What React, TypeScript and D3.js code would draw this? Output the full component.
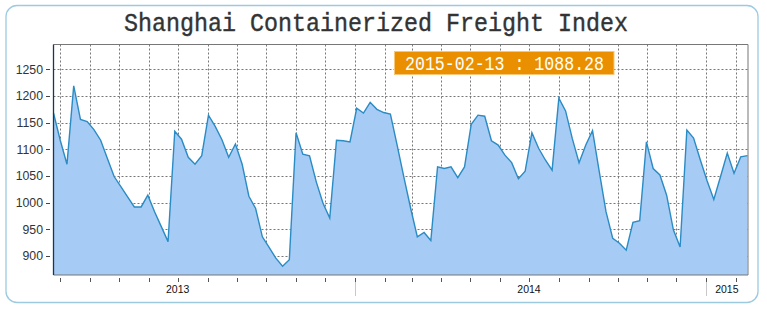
import React from "react";
import * as d3 from "d3";

const TITLE = "Shanghai Containerized Freight Index";
const START_DATE = Date.UTC(2013, 1, 22);
const values: number[] = [
  1168, 1117, 1072, 1219, 1156, 1152, 1137, 1117, 1083, 1049,
  1030, 1011, 992, 992, 1014, 983, 955, 927, 1134, 1119,
  1085, 1072, 1088, 1164, 1143, 1118, 1085, 1110, 1072, 1012,
  989, 936, 916, 896, 881, 893, 1131, 1091, 1088, 1039,
  999, 971, 1117, 1116, 1114, 1177, 1168, 1188, 1175, 1169,
  1166, 1108, 1048, 990, 936, 944, 929, 1067, 1064, 1067,
  1047, 1067, 1147, 1164, 1162, 1116, 1108, 1089, 1075, 1045,
  1059, 1131, 1102, 1080, 1061, 1196, 1172, 1120, 1075, 1108,
  1135, 1058, 983, 933, 924, 911, 963, 966, 1114, 1064,
  1052, 1014, 949, 917, 1136, 1121, 1080, 1041, 1006, 1049,
  1093, 1055, 1086, 1088.28,
];
const yTicks: number[] = [900, 950, 1000, 1050, 1100, 1150, 1200, 1250];
const yearLabels: string[] = ["2013", "2014", "2015"];

const W = 767;
const H = 310;
const plotL = 53.5;
const plotR = 748;
const plotT = 44.5;
const plotB = 275;

export default function App() {
  const dates = values.map((_, i) => new Date(START_DATE + i * 7 * 864e5));
  const x = d3
    .scaleUtc()
    .domain([dates[0], dates[dates.length - 1]])
    .range([plotL, 747.5]);
  const y = d3.scaleLinear().domain([900, 1250]).range([256, 69.3]);

  const months = d3.utcMonth.range(dates[0], dates[dates.length - 1]);
  const pts = values.map((v, i) => [dates[i], v] as [Date, number]);
  const area = d3
    .area<[Date, number]>()
    .x((d) => x(d[0]))
    .y0(plotB)
    .y1((d) => y(d[1]))(pts) as string;
  const line = d3
    .line<[Date, number]>()
    .x((d) => x(d[0]))
    .y((d) => y(d[1]))(pts) as string;

  const [d0, d1] = x.domain();
  const yearPos = yearLabels.map((yr) => {
    const yn = +yr;
    const mid = new Date(Date.UTC(yn, 6, 1));
    if (mid >= d0 && mid <= d1) return x(mid);
    const s = Math.max(+d0, Date.UTC(yn, 0, 1));
    const e = Math.min(+d1, Date.UTC(yn + 1, 0, 1));
    return (x(new Date(s)) + x(new Date(e))) / 2;
  });

  const last = values.length - 1;
  const labelText = `${d3.utcFormat("%Y-%m-%d")(dates[last])} : ${values[last].toFixed(2)}`;

  return (
    <svg
      width={W}
      height={H}
      style={{ position: "absolute", left: 0, top: 0, background: "#fff" }}
    >
      <rect
        x={6}
        y={5.5}
        width={752}
        height={297}
        rx={11}
        fill="#fff"
        stroke="#9ccbe0"
        strokeWidth={1.3}
      />
      <text
        x={376}
        y={31}
        textAnchor="middle"
        fontFamily="'Liberation Mono', 'DejaVu Sans Mono', monospace"
        fontSize={26}
        fill="#333"
        stroke="#333"
        strokeWidth={0.4}
        textLength={504}
        lengthAdjust="spacingAndGlyphs"
      >
        {TITLE}
      </text>

      {/* grid */}
      {yTicks.map((t) => (
        <line
          key={"gy" + t}
          x1={plotL}
          x2={plotR}
          y1={Math.round(y(t)) + 0.5}
          y2={Math.round(y(t)) + 0.5}
          stroke="#777"
          strokeDasharray="2,2"
        />
      ))}
      {months.map((m) => (
        <line
          key={"gx" + +m}
          x1={Math.round(x(m)) + 0.5}
          x2={Math.round(x(m)) + 0.5}
          y1={plotT}
          y2={plotB}
          stroke="#777"
          strokeDasharray="2,2"
        />
      ))}

      <path d={area} fill="#a6cbf5" />
      <path d={line} fill="none" stroke="#2b8bc3" strokeWidth={1.4} />

      {/* frame */}
      <line x1={plotL} x2={plotR} y1={plotT} y2={plotT} stroke="#777" />
      <line x1={plotR} x2={plotR} y1={plotT} y2={plotB} stroke="#777" />
      <line x1={plotL} x2={plotR} y1={plotB} y2={plotB} stroke="#777" strokeWidth={1.2} />
      <line x1={plotL} x2={plotL} y1={plotT} y2={plotB} stroke="#1d3550" strokeWidth={1.3} />

      {/* y axis */}
      {yTicks.map((t) => (
        <g key={"yt" + t}>
          <line
            x1={46}
            x2={50}
            y1={Math.round(y(t)) + 0.5}
            y2={Math.round(y(t)) + 0.5}
            stroke="#444"
          />
          <text
            x={43}
            y={y(t) + 4.3}
            textAnchor="end"
            fontFamily="'Liberation Sans', Arial, sans-serif"
            fontSize={12.3}
            fill="#333"
          >
            {t}
          </text>
        </g>
      ))}

      {/* x axis */}
      {months.map((m) => {
        const px = Math.round(x(m)) + 0.5;
        const isYear = m.getUTCMonth() === 0;
        return (
          <g key={"xt" + +m}>
            {isYear && (
              <line x1={px} x2={px} y1={278} y2={296} stroke="#c8c8c8" />
            )}
            <line x1={px} x2={px} y1={278} y2={282} stroke="#555" />
          </g>
        );
      })}
      {yearLabels.map((yr, i) => (
        <text
          key={yr}
          x={yearPos[i]}
          y={292.5}
          textAnchor="middle"
          fontFamily="'Liberation Sans', Arial, sans-serif"
          fontSize={10.5}
          fill="#111"
        >
          {yr}
        </text>
      ))}

      {/* value label */}
      <rect
        x={394.5}
        y={51.5}
        width={219.5}
        height={23}
        fill="#ea9000"
        stroke="#f7c777"
        strokeWidth={1}
      />
      <text
        x={504.5}
        y={69.5}
        textAnchor="middle"
        fontFamily="'Liberation Mono', 'DejaVu Sans Mono', monospace"
        fontSize={19.5}
        fill="#fff"
        textLength={199}
        lengthAdjust="spacingAndGlyphs"
      >
        {labelText}
      </text>
    </svg>
  );
}
